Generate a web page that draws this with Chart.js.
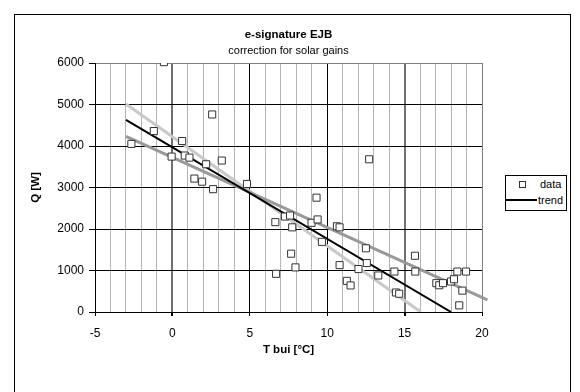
<!DOCTYPE html>
<html>
<head>
<meta charset="utf-8">
<script src="https://cdn.jsdelivr.net/npm/chart.js@4/dist/chart.umd.min.js"></script>
<style>
html,body{margin:0;padding:0;background:#fff;}
#wrap{position:relative;width:580px;height:392px;overflow:hidden;}
#frame{position:absolute;left:14px;top:14px;width:557px;height:400px;border:1px solid #000;box-sizing:border-box;}
canvas{position:absolute;left:0;top:0;}
#legend{position:absolute;left:505px;top:175px;width:62px;height:36px;border:1px solid #000;box-sizing:border-box;background:#fff;font:11px "Liberation Sans",Arial,sans-serif;color:#000;}
#legend .mk{position:absolute;left:13px;top:5px;width:7px;height:7px;border:1px solid #333;box-sizing:border-box;background:#fff;}
#legend .t1{position:absolute;left:34px;top:2px;}
#legend .ln{position:absolute;left:0px;top:23px;width:31px;height:2px;background:#000;}
#legend .t2{position:absolute;left:32px;top:18px;}
</style>
</head>
<body>
<div id="wrap">
  <div id="frame"></div>
  <canvas id="c" width="580" height="392"></canvas>
  <div id="legend"><span class="mk"></span><span class="t1">data</span><span class="ln"></span><span class="t2">trend</span></div>
</div>
<script>
// measured data (T bui [°C], Q [W])
const dataT = [-2.65,-1.2,-0.55,-0.05,0.63,0.8,1.1,1.42,1.92,2.18,2.57,2.63,3.19,4.82,6.65,6.7,7.27,7.6,7.67,7.74,7.95,8.99,9.31,9.38,9.66,10.63,10.8,10.8,11.27,11.51,12.02,12.5,12.56,12.71,13.3,14.34,14.44,14.65,15.67,15.69,17.05,17.24,17.48,18.0,18.19,18.41,18.53,18.73,18.97];
const dataQ = [4050,4360,6020,3745,4120,3770,3720,3215,3140,3560,4760,2960,3650,3085,2165,920,2300,2325,1405,2040,1075,2150,2755,2230,1690,2065,2040,1130,750,640,1035,1535,1180,3680,880,975,470,440,1355,975,695,645,695,735,790,975,160,515,975];
// trend line
const trendT = [-3, 18];
const trendQ = [4630, 0];
// upper (light grey) line
const upperT = [-3, 16.05];
const upperQ = [5010, 0];
// lower (dark grey) line
const lowerT = [-3, 20.35];
const lowerQ = [4230, 290];
// ticks
const xTicks = [-5, 0, 5, 10, 15, 20];
const yTicks = [0, 1000, 2000, 3000, 4000, 5000, 6000];

const FONT = '"Liberation Sans", Arial, sans-serif';
const pts = (xs, ys) => xs.map((x, i) => ({x: x, y: ys[i]}));

new Chart(document.getElementById('c'), {
  type: 'scatter',
  data: {
    datasets: [
      {label: 'data', data: pts(dataT, dataQ), pointStyle: 'rect', pointRadius: 5, pointBorderColor: '#333', pointBackgroundColor: '#fff', pointBorderWidth: 1, showLine: false, order: 0},
      {label: 'trend', data: pts(trendT, trendQ), showLine: true, borderColor: '#000', borderWidth: 2, pointRadius: 0, order: 1},
      {label: 'lower', data: pts(lowerT, lowerQ), showLine: true, borderColor: '#999', borderWidth: 3, pointRadius: 0, order: 2, clip: false},
      {label: 'upper', data: pts(upperT, upperQ), showLine: true, borderColor: '#c8c8c8', borderWidth: 3, pointRadius: 0, order: 3}
    ]
  },
  options: {
    responsive: false,
    animation: false,
    layout: {padding: {left: 14, top: 20, right: 98, bottom: 0}},
    plugins: {
      legend: {display: false},
      tooltip: {enabled: false},
      title: {display: true, fullSize: false, text: 'e-signature EJB', color: '#000', font: {family: FONT, size: 11.5, weight: 'bold', lineHeight: 1.2}, padding: {top: 8, bottom: 3}},
      subtitle: {display: true, fullSize: false, text: 'correction for solar gains', color: '#000', font: {family: FONT, size: 11, lineHeight: 1.2}, padding: {top: 0, bottom: 5}}
    },
    scales: {
      x: {
        type: 'linear', min: -5, max: 20,
        afterBuildTicks: s => { const t = []; for (let v = -5; v <= 20; v++) t.push({value: v}); s.ticks = t; },
        ticks: {autoSkip: false, maxRotation: 0, padding: 10, color: '#000', font: {family: FONT, size: 12},
          callback: v => xTicks.includes(v) ? String(v) : ''},
        grid: {tickLength: 4,
          color: c => { const v = c.tick ? c.tick.value : 0; if (v === 20) return '#808080'; if (v === 5 || v === 10) return '#000'; if (v === 0 || v === 15) return '#707070'; return '#b4b4b4'; },
          lineWidth: c => { const v = c.tick ? c.tick.value : 0; return (v === 0 || v === 15) ? 2 : 1; },
          tickColor: c => (c.tick && xTicks.includes(c.tick.value)) ? '#000' : 'rgba(0,0,0,0)'},
        border: {color: '#000', width: 1},
        title: {display: true, text: 'T bui [°C]', color: '#000', font: {family: FONT, size: 11.5, weight: 'bold', lineHeight: 1.2}, padding: {top: 0, bottom: 35}},
        afterFit: s => { s.height = 80; }
      },
      y: {
        type: 'linear', min: 0, max: 6000,
        afterBuildTicks: s => { s.ticks = yTicks.map(v => ({value: v})); },
        ticks: {padding: 5, color: '#000', font: {family: FONT, size: 12}, callback: v => String(v)},
        grid: {tickLength: 6, tickColor: '#000',
          color: c => (c.tick && c.tick.value === 6000) ? '#808080' : '#000'},
        border: {color: '#000', width: 1},
        title: {display: true, text: 'Q [W]', color: '#000', font: {family: FONT, size: 11.5, weight: 'bold', lineHeight: 1.2}, padding: {top: 15, bottom: 0}},
        afterFit: s => { s.width = 81; }
      }
    }
  }
});
</script>
</body>
</html>
